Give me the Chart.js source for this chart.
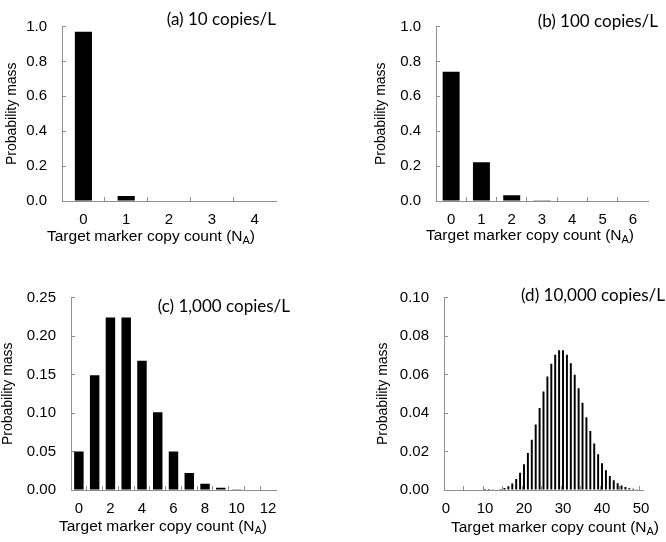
<!DOCTYPE html>
<html>
<head>
<meta charset="utf-8">
<script src="https://cdn.jsdelivr.net/npm/chart.js@4.4.0/dist/chart.umd.min.js"></script>
<style>
  html, body { margin: 0; padding: 0; background: #fff; }
  #wrap { position: relative; width: 666px; height: 542px; }
  .panel { position: absolute; width: 333px; height: 271px; }
</style>
</head>
<body>
<div id="wrap">
  <div class="panel" style="left:0;top:0"><canvas id="chartA" width="333" height="271"></canvas></div>
  <div class="panel" style="left:333px;top:0"><canvas id="chartB" width="333" height="271"></canvas></div>
  <div class="panel" style="left:0;top:271px"><canvas id="chartC" width="333" height="271"></canvas></div>
  <div class="panel" style="left:333px;top:271px"><canvas id="chartD" width="333" height="271"></canvas></div>
</div>
<script>
// (a) 10 copies/L
const countsA = ['0', '1', '2', '3', '4'];
const massA = [0.970, 0.029, 0, 0, 0];
const yTicksA = [0, 0.2, 0.4, 0.6, 0.8, 1.0];

// (b) 100 copies/L
const countsB = ['0', '1', '2', '3', '4', '5', '6'];
const massB = [0.741, 0.222, 0.033, 0.004, 0, 0, 0];
const yTicksB = [0, 0.2, 0.4, 0.6, 0.8, 1.0];

// (c) 1,000 copies/L
const countsC = ['0', '1', '2', '3', '4', '5', '6', '7', '8', '9', '10', '11', '12'];
const massC = [0.050, 0.149, 0.224, 0.224, 0.168, 0.101, 0.050, 0.022, 0.008, 0.003, 0.001, 0, 0];
const yTicksC = [0, 0.05, 0.10, 0.15, 0.20, 0.25];
const shownC = ['0', '2', '4', '6', '8', '10', '12'];

// (d) 10,000 copies/L
const countsD = ['0', '1', '2', '3', '4', '5', '6', '7', '8', '9', '10', '11', '12', '13', '14', '15', '16',
  '17', '18', '19', '20', '21', '22', '23', '24', '25', '26', '27', '28', '29', '30', '31', '32', '33',
  '34', '35', '36', '37', '38', '39', '40', '41', '42', '43', '44', '45', '46', '47', '48', '49', '50'];
const massD = [0, 0, 0, 0, 0, 0, 0, 0, 0, 0,
  0.00001, 0.00004, 0.0001, 0.00024, 0.00051, 0.00103, 0.00193, 0.0034, 0.00566, 0.00894,
  0.01341, 0.01916, 0.02613, 0.03408, 0.0426, 0.05111, 0.05898, 0.06553, 0.07021, 0.07263,
  0.07263, 0.07029, 0.0659, 0.05991, 0.05286, 0.04531, 0.03776, 0.03061, 0.02417, 0.01859,
  0.01394, 0.0102, 0.00729, 0.00508, 0.00347, 0.00231, 0.00151, 0.00096, 0.0006, 0.00037, 0.00022];
const yTicksD = [0, 0.02, 0.04, 0.06, 0.08, 0.10];
const shownD = ['0', '10', '20', '30', '40', '50'];

const AXIS = '#8f8f8f';
const TICK_FONT = { family: '"Liberation Sans", Arial, sans-serif', size: 15 };
const TITLE_FONT = { family: '"Liberation Sans", Arial, sans-serif', size: 14 };

// draws the panel tag and the x axis title (with subscript A)
function panelText(tag, tagX, tagY, tagW, titleX, titleGap) {
    return {
        id: 'panelText',
        afterDraw(chart) {
            const ctx = chart.ctx;
            const y = chart.chartArea.bottom + titleGap;
            ctx.save();
            ctx.fillStyle = '#000';
            ctx.textBaseline = 'middle';
            ctx.font = '17px Lato, "Open Sans", sans-serif';
            ctx.textAlign = 'right';
            ctx.fillText(tag, tagX, tagY, tagW);

            const big = '15.5px "Liberation Sans", Arial, sans-serif';
            const small = '11px "Liberation Sans", Arial, sans-serif';
            const main = 'Target marker copy count (N';
            ctx.font = big;
            const w1 = ctx.measureText(main).width;
            const w3 = ctx.measureText(')').width;
            ctx.font = small;
            const w2 = ctx.measureText('A').width;
            let x = titleX - (w1 + w2 + w3) / 2;
            ctx.textAlign = 'left';
            ctx.font = big;
            ctx.fillText(main, x, y);
            x += w1;
            ctx.font = small;
            ctx.fillText('A', x, y + 4);
            x += w2;
            ctx.font = big;
            ctx.fillText(')', x, y);
            ctx.restore();
        }
    };
}

function makePanel(id, p) {
    const ctx = document.getElementById(id).getContext('2d');
    new Chart(ctx, {
        type: 'bar',
        data: {
            labels: p.labels,
            datasets: [{
                data: p.values,
                backgroundColor: '#000',
                borderWidth: 0,
                barPercentage: p.barPct,
                categoryPercentage: 1
            }]
        },
        options: {
            responsive: false,
            animation: false,
            layout: { padding: { left: 0, top: p.top, right: p.right, bottom: 0 } },
            plugins: { legend: { display: false }, tooltip: { enabled: false } },
            scales: {
                x: {
                    afterFit: s => { s.height = p.xHeight; },
                    border: { color: AXIS, width: 1 },
                    grid: {
                        drawOnChartArea: false,
                        offset: true,
                        tickLength: -4,
                        tickColor: c => (c.index % p.tickEvery === 0 ? AXIS : 'rgba(0,0,0,0)')
                    },
                    ticks: {
                        autoSkip: false,
                        maxRotation: 0,
                        padding: 14,
                        color: '#000',
                        font: TICK_FONT,
                        callback: (v, i) => (p.shown.includes(p.labels[i]) ? p.labels[i] : '')
                    }
                },
                y: {
                    min: 0,
                    max: p.yTicks[p.yTicks.length - 1],
                    afterFit: s => { s.width = p.left; },
                    afterBuildTicks: s => { s.ticks = p.yTicks.map(v => ({ value: v })); },
                    border: { color: AXIS, width: 1 },
                    grid: { drawOnChartArea: false, tickLength: -4, tickColor: AXIS },
                    ticks: {
                        padding: 19,
                        color: '#000',
                        font: Object.assign({}, TICK_FONT, { lineHeight: 1 }),
                        callback: v => v.toFixed(p.decimals)
                    },
                    title: {
                        display: true,
                        text: 'Probability mass',
                        color: '#000',
                        font: TITLE_FONT,
                        padding: { top: p.yTitlePad, bottom: 0 }
                    }
                }
            }
        },
        plugins: [panelText(p.tag, p.tagX, p.tagY, p.tagW, p.titleX, p.titleGap)]
    });
}

makePanel('chartA', {
    labels: countsA, values: massA, yTicks: yTicksA, shown: countsA, decimals: 1,
    barPct: 0.4, tickEvery: 1, left: 62, top: 8, right: 57, xHeight: 70, yTitlePad: 4,
    tag: '(a) 10 copies/L', tagX: 276, tagY: 20, tagW: 111, titleX: 151, titleGap: 36
});
makePanel('chartB', {
    labels: countsB, values: massB, yTicks: yTicksB, shown: countsB, decimals: 1,
    barPct: 0.56, tickEvery: 1, left: 103, top: 8, right: 18, xHeight: 70, yTitlePad: 40,
    tag: '(b) 100 copies/L', tagX: 325, tagY: 22, tagW: 122, titleX: 197, titleGap: 35
});
makePanel('chartC', {
    labels: countsC, values: massC, yTicks: yTicksC, shown: shownC, decimals: 2,
    barPct: 0.6, tickEvery: 1, left: 71, top: 26, right: 57, xHeight: 52, yTitlePad: 0,
    tag: '(c) 1,000 copies/L', tagX: 290, tagY: 36, tagW: 134, titleX: 163, titleGap: 37
});
makePanel('chartD', {
    labels: countsD, values: massD, yTicks: yTicksD, shown: shownD, decimals: 2,
    barPct: 0.5, tickEvery: 5, left: 111, top: 25, right: 23, xHeight: 52, yTitlePad: 42,
    tag: '(d) 10,000 copies/L', tagX: 332, tagY: 25, tagW: 148, titleX: 222, titleGap: 38
});
</script>
</body>
</html>
